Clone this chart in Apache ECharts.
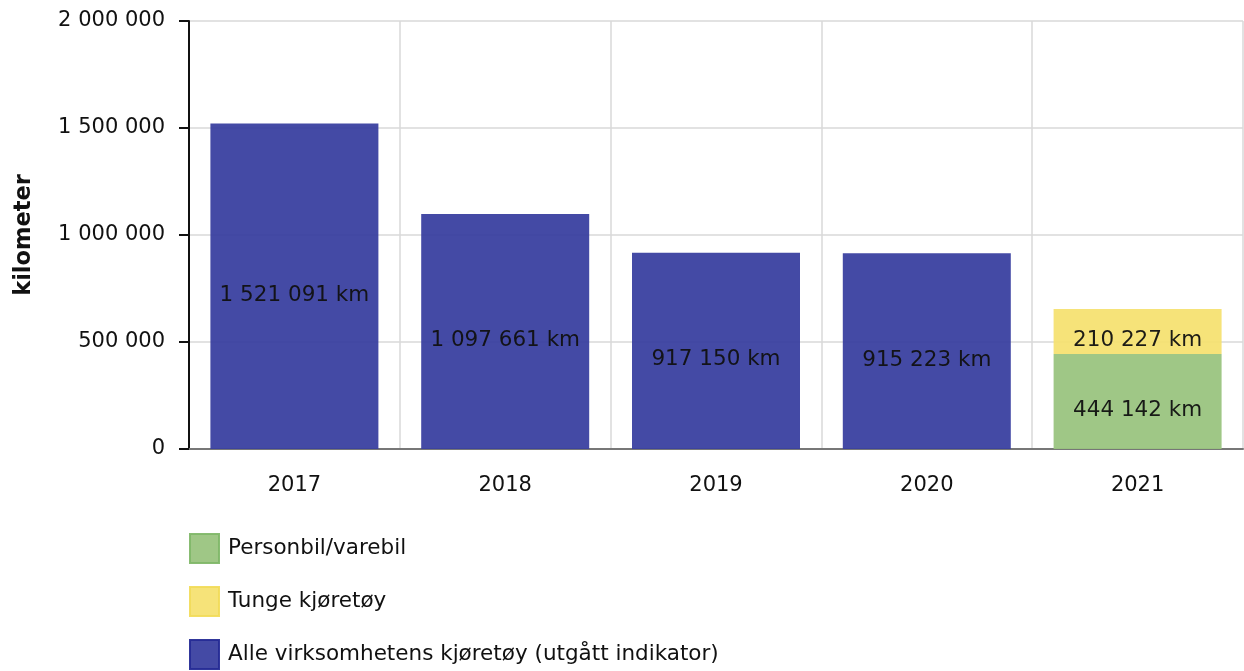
<!DOCTYPE html>
<html>
<head>
<meta charset="utf-8">
<script src="https://cdn.jsdelivr.net/npm/echarts@6/dist/echarts.min.js"></script>
<style>
    html, body { margin: 0; padding: 0; background: #fff; }
    #chart { width: 1244px; height: 671px; }
</style>
</head>
<body>
<div id="chart"></div>
<script>
// data
var years = ['2017', '2018', '2019', '2020', '2021'];
var alleKjoretoy = [1521091, 1097661, 917150, 915223, null];
var personbil = [null, null, null, null, 444142];
var tunge = [null, null, null, null, 210227];
var yTicks = [0, 500000, 1000000, 1500000, 2000000];

var font = 'DejaVu Sans, Verdana, sans-serif';

// mellomrom som tusenskille
function fmt(v) {
    return String(v).replace(/\B(?=(\d{3})+(?!\d))/g, ' ');
}

var labelOpt = {
    show: true,
    position: 'inside',
    offset: [0, 9],
    color: '#111',
    fontFamily: font,
    fontSize: 21.5,
    formatter: function (p) { return fmt(p.value) + ' km'; }
};

// en legend per serie, stablet loddrett
var legendItems = [
    { name: 'Personbil/varebil', border: '#82b86a' },
    { name: 'Tunge kjøretøy', border: '#f2dc5c' },
    { name: 'Alle virksomhetens kjøretøy (utgått indikator)', border: '#262c96' }
];
var legends = legendItems.map(function (it, i) {
    return {
        orient: 'vertical',
        left: 189,
        top: 533 + i * 53,
        padding: 0,
        itemWidth: 29,
        itemHeight: 29,
        itemGap: 8,
        icon: 'rect',
        selectedMode: false,
        data: [{ name: it.name, itemStyle: { borderColor: it.border, borderWidth: 2 } }],
        textStyle: { fontSize: 21.5, color: '#111', fontFamily: font, padding: [0, 0, 0, 4] }
    };
});

var myChart = echarts.init(document.getElementById('chart'));
myChart.setOption({
    animation: false,
    textStyle: { fontFamily: font },
    grid: {
        left: 189,
        right: 1,
        top: 21,
        bottom: 222
    },
    legend: legends,
    xAxis: {
        type: 'category',
        data: years,
        axisLine: { lineStyle: { color: '#777', width: 2 } },
        axisTick: { alignWithLabel: true, length: 8, lineStyle: { color: '#aaa', width: 2 } },
        axisLabel: { color: '#111', fontSize: 21, margin: 26 },
        splitLine: { show: true, lineStyle: { color: '#d8d8d8', width: 1.5 } }
    },
    yAxis: {
        type: 'value',
        min: yTicks[0],
        max: yTicks[yTicks.length - 1],
        interval: yTicks[1] - yTicks[0],
        name: 'kilometer',
        nameLocation: 'middle',
        nameGap: 153,
        nameTextStyle: { fontSize: 22.5, fontWeight: 'bold', color: '#111' },
        axisLine: { show: true, lineStyle: { color: '#111', width: 2 } },
        axisTick: { show: true, length: 10, lineStyle: { color: '#111', width: 2 } },
        axisLabel: { color: '#111', fontSize: 21, margin: 24, formatter: fmt },
        splitLine: { lineStyle: { color: '#d8d8d8', width: 1.5 } }
    },
    series: [{
        name: 'Personbil/varebil',
        type: 'bar',
        stack: 'ny',
        data: personbil,
        barWidth: 168,
        barGap: '-100%',
        itemStyle: { color: '#9ac47f', opacity: 0.95 },
        label: labelOpt
    }, {
        name: 'Tunge kjøretøy',
        type: 'bar',
        stack: 'ny',
        data: tunge,
        barWidth: 168,
        itemStyle: { color: '#f6e172', opacity: 0.95 },
        label: labelOpt
    }, {
        name: 'Alle virksomhetens kjøretøy (utgått indikator)',
        type: 'bar',
        data: alleKjoretoy,
        barWidth: 168,
        barGap: '-100%',
        itemStyle: { color: '#3a40a0', opacity: 0.95 },
        label: labelOpt
    }]
});
</script>
</body>
</html>
